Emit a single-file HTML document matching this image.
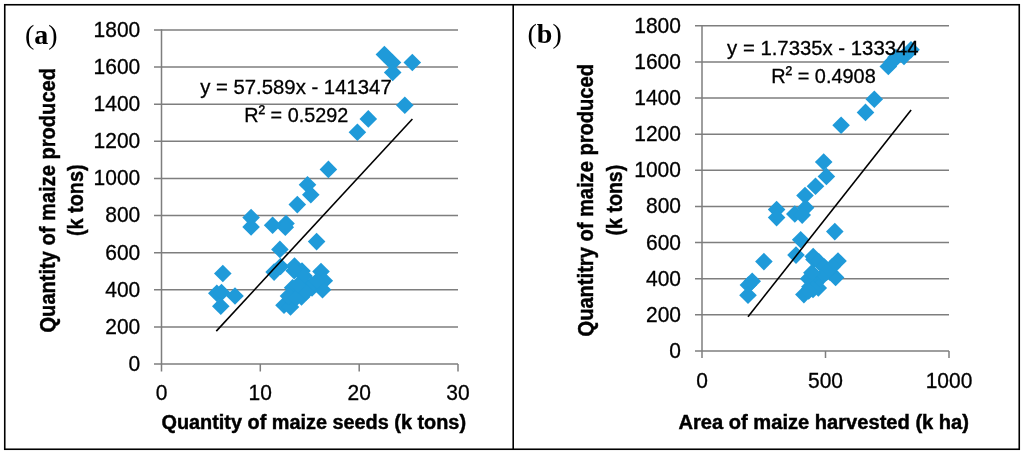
<!DOCTYPE html>
<html><head><meta charset="utf-8"><style>
html,body{margin:0;padding:0;background:#fff;width:1024px;height:455px;overflow:hidden}
svg{display:block;filter:blur(0.3px)}
.g{stroke:#7e7e7e;stroke-width:1.5;fill:none}
.tr{stroke:#000;stroke-width:1.6}
.t{font-family:"Liberation Sans",sans-serif;font-size:20px;fill:#000;stroke:#000;stroke-width:0.3px}
.n{font-family:"Liberation Sans",sans-serif;font-size:22px;fill:#000;stroke:#000;stroke-width:0.3px}
.by{font-family:"Liberation Sans",sans-serif;font-size:22px;font-weight:bold;fill:#000;stroke:#000;stroke-width:0.45px}
.pn{font-weight:normal}
.b{font-family:"Liberation Sans",sans-serif;font-size:20px;font-weight:bold;fill:#000;stroke:#000;stroke-width:0.45px}
.p{font-family:"Liberation Serif",serif;font-size:28px;font-weight:bold;fill:#000}
</style></head><body>
<svg width="1024" height="455" viewBox="0 0 1024 455">
<rect x="0" y="0" width="1024" height="455" fill="#fff"/>
<line x1="154.0" y1="364.00" x2="458.0" y2="364.00" class="g"/>
<line x1="154.0" y1="326.89" x2="458.0" y2="326.89" class="g"/>
<line x1="154.0" y1="289.78" x2="458.0" y2="289.78" class="g"/>
<line x1="154.0" y1="252.67" x2="458.0" y2="252.67" class="g"/>
<line x1="154.0" y1="215.56" x2="458.0" y2="215.56" class="g"/>
<line x1="154.0" y1="178.44" x2="458.0" y2="178.44" class="g"/>
<line x1="154.0" y1="141.33" x2="458.0" y2="141.33" class="g"/>
<line x1="154.0" y1="104.22" x2="458.0" y2="104.22" class="g"/>
<line x1="154.0" y1="67.11" x2="458.0" y2="67.11" class="g"/>
<line x1="154.0" y1="30.00" x2="458.0" y2="30.00" class="g"/>
<line x1="161.5" y1="29.25" x2="161.5" y2="371.5" class="g"/>
<line x1="260.3" y1="364.0" x2="260.3" y2="371.5" class="g"/>
<line x1="359.2" y1="364.0" x2="359.2" y2="371.5" class="g"/>
<line x1="458.0" y1="364.0" x2="458.0" y2="371.5" class="g"/>
<text x="140.3" y="370.90" class="n" text-anchor="end" textLength="11.68" lengthAdjust="spacingAndGlyphs">0</text>
<text x="140.3" y="333.79" class="n" text-anchor="end" textLength="35.04" lengthAdjust="spacingAndGlyphs">200</text>
<text x="140.3" y="296.68" class="n" text-anchor="end" textLength="35.04" lengthAdjust="spacingAndGlyphs">400</text>
<text x="140.3" y="259.57" class="n" text-anchor="end" textLength="35.04" lengthAdjust="spacingAndGlyphs">600</text>
<text x="140.3" y="222.46" class="n" text-anchor="end" textLength="35.04" lengthAdjust="spacingAndGlyphs">800</text>
<text x="140.3" y="185.34" class="n" text-anchor="end" textLength="46.72" lengthAdjust="spacingAndGlyphs">1000</text>
<text x="140.3" y="148.23" class="n" text-anchor="end" textLength="46.72" lengthAdjust="spacingAndGlyphs">1200</text>
<text x="140.3" y="111.12" class="n" text-anchor="end" textLength="46.72" lengthAdjust="spacingAndGlyphs">1400</text>
<text x="140.3" y="74.01" class="n" text-anchor="end" textLength="46.72" lengthAdjust="spacingAndGlyphs">1600</text>
<text x="140.3" y="36.90" class="n" text-anchor="end" textLength="46.72" lengthAdjust="spacingAndGlyphs">1800</text>
<text x="161.5" y="400.4" class="n" text-anchor="middle" textLength="11.68" lengthAdjust="spacingAndGlyphs">0</text>
<text x="260.3" y="400.4" class="n" text-anchor="middle" textLength="23.36" lengthAdjust="spacingAndGlyphs">10</text>
<text x="359.2" y="400.4" class="n" text-anchor="middle" textLength="23.36" lengthAdjust="spacingAndGlyphs">20</text>
<text x="458.0" y="400.4" class="n" text-anchor="middle" textLength="23.36" lengthAdjust="spacingAndGlyphs">30</text>
<line x1="695.0" y1="351.00" x2="949.0" y2="351.00" class="g"/>
<line x1="695.0" y1="314.87" x2="949.0" y2="314.87" class="g"/>
<line x1="695.0" y1="278.73" x2="949.0" y2="278.73" class="g"/>
<line x1="695.0" y1="242.60" x2="949.0" y2="242.60" class="g"/>
<line x1="695.0" y1="206.47" x2="949.0" y2="206.47" class="g"/>
<line x1="695.0" y1="170.33" x2="949.0" y2="170.33" class="g"/>
<line x1="695.0" y1="134.20" x2="949.0" y2="134.20" class="g"/>
<line x1="695.0" y1="98.07" x2="949.0" y2="98.07" class="g"/>
<line x1="695.0" y1="61.93" x2="949.0" y2="61.93" class="g"/>
<line x1="695.0" y1="25.80" x2="949.0" y2="25.80" class="g"/>
<line x1="702.0" y1="25.05" x2="702.0" y2="358.0" class="g"/>
<line x1="825.5" y1="351.0" x2="825.5" y2="358.0" class="g"/>
<line x1="949.0" y1="351.0" x2="949.0" y2="358.0" class="g"/>
<text x="681.0" y="357.90" class="n" text-anchor="end" textLength="11.68" lengthAdjust="spacingAndGlyphs">0</text>
<text x="681.0" y="321.77" class="n" text-anchor="end" textLength="35.04" lengthAdjust="spacingAndGlyphs">200</text>
<text x="681.0" y="285.63" class="n" text-anchor="end" textLength="35.04" lengthAdjust="spacingAndGlyphs">400</text>
<text x="681.0" y="249.50" class="n" text-anchor="end" textLength="35.04" lengthAdjust="spacingAndGlyphs">600</text>
<text x="681.0" y="213.37" class="n" text-anchor="end" textLength="35.04" lengthAdjust="spacingAndGlyphs">800</text>
<text x="681.0" y="177.23" class="n" text-anchor="end" textLength="46.72" lengthAdjust="spacingAndGlyphs">1000</text>
<text x="681.0" y="141.10" class="n" text-anchor="end" textLength="46.72" lengthAdjust="spacingAndGlyphs">1200</text>
<text x="681.0" y="104.97" class="n" text-anchor="end" textLength="46.72" lengthAdjust="spacingAndGlyphs">1400</text>
<text x="681.0" y="68.83" class="n" text-anchor="end" textLength="46.72" lengthAdjust="spacingAndGlyphs">1600</text>
<text x="681.0" y="32.70" class="n" text-anchor="end" textLength="46.72" lengthAdjust="spacingAndGlyphs">1800</text>
<text x="702.0" y="387.5" class="n" text-anchor="middle" textLength="11.68" lengthAdjust="spacingAndGlyphs">0</text>
<text x="825.5" y="387.5" class="n" text-anchor="middle" textLength="35.04" lengthAdjust="spacingAndGlyphs">500</text>
<text x="949.0" y="387.5" class="n" text-anchor="middle" textLength="46.72" lengthAdjust="spacingAndGlyphs">1000</text>
<g fill="#1f9ad9">
<path d="M384.4 45.7L393.2 54.5L384.4 63.3L375.6 54.5Z"/>
<path d="M392.5 53.7L401.3 62.5L392.5 71.3L383.7 62.5Z"/>
<path d="M392.7 63.7L401.5 72.5L392.7 81.3L383.9 72.5Z"/>
<path d="M412.3 53.7L421.1 62.5L412.3 71.3L403.5 62.5Z"/>
<path d="M404.8 96.5L413.6 105.3L404.8 114.1L396.0 105.3Z"/>
<path d="M368.3 110.1L377.1 118.9L368.3 127.7L359.5 118.9Z"/>
<path d="M357.4 123.5L366.2 132.3L357.4 141.1L348.6 132.3Z"/>
<path d="M328.4 160.6L337.2 169.4L328.4 178.2L319.6 169.4Z"/>
<path d="M307.5 176.0L316.3 184.8L307.5 193.6L298.7 184.8Z"/>
<path d="M310.8 185.9L319.6 194.7L310.8 203.5L302.0 194.7Z"/>
<path d="M297.3 195.8L306.1 204.6L297.3 213.4L288.5 204.6Z"/>
<path d="M286.0 214.7L294.8 223.5L286.0 232.3L277.2 223.5Z"/>
<path d="M285.3 218.4L294.1 227.2L285.3 236.0L276.5 227.2Z"/>
<path d="M251.1 208.8L259.9 217.6L251.1 226.4L242.3 217.6Z"/>
<path d="M251.1 218.1L259.9 226.9L251.1 235.7L242.3 226.9Z"/>
<path d="M272.6 216.4L281.4 225.2L272.6 234.0L263.8 225.2Z"/>
<path d="M279.9 240.6L288.7 249.4L279.9 258.2L271.1 249.4Z"/>
<path d="M316.6 232.8L325.4 241.6L316.6 250.4L307.8 241.6Z"/>
<path d="M222.8 264.7L231.6 273.5L222.8 282.3L214.0 273.5Z"/>
<path d="M216.8 284.5L225.6 293.3L216.8 302.1L208.0 293.3Z"/>
<path d="M221.5 283.7L230.3 292.5L221.5 301.3L212.7 292.5Z"/>
<path d="M235.0 287.2L243.8 296.0L235.0 304.8L226.2 296.0Z"/>
<path d="M220.8 297.5L229.6 306.3L220.8 315.1L212.0 306.3Z"/>
<path d="M274.1 263.3L282.9 272.1L274.1 280.9L265.3 272.1Z"/>
<path d="M280.5 257.7L289.3 266.5L280.5 275.3L271.7 266.5Z"/>
<path d="M294.5 257.2L303.3 266.0L294.5 274.8L285.7 266.0Z"/>
<path d="M302.0 262.2L310.8 271.0L302.0 279.8L293.2 271.0Z"/>
<path d="M321.0 262.7L329.8 271.5L321.0 280.3L312.2 271.5Z"/>
<path d="M324.3 271.9L333.1 280.7L324.3 289.5L315.5 280.7Z"/>
<path d="M322.5 281.0L331.3 289.8L322.5 298.6L313.7 289.8Z"/>
<path d="M292.6 278.9L301.4 287.7L292.6 296.5L283.8 287.7Z"/>
<path d="M284.0 296.5L292.8 305.3L284.0 314.1L275.2 305.3Z"/>
<path d="M290.5 298.2L299.3 307.0L290.5 315.8L281.7 307.0Z"/>
<path d="M288.5 287.2L297.3 296.0L288.5 304.8L279.7 296.0Z"/>
<path d="M301.5 288.2L310.3 297.0L301.5 305.8L292.7 297.0Z"/>
<path d="M303.0 274.2L311.8 283.0L303.0 291.8L294.2 283.0Z"/>
<path d="M294.2 262.0L303.0 270.8L294.2 279.6L285.4 270.8Z"/>
<path d="M312.0 279.2L320.8 288.0L312.0 296.8L303.2 288.0Z"/>
<path d="M305.0 281.2L313.8 290.0L305.0 298.8L296.2 290.0Z"/>
<path d="M296.0 289.2L304.8 298.0L296.0 306.8L287.2 298.0Z"/>
<path d="M312.0 276.2L320.8 285.0L312.0 293.8L303.2 285.0Z"/>
<path d="M304.0 267.2L312.8 276.0L304.0 284.8L295.2 276.0Z"/>
<path d="M317.0 272.2L325.8 281.0L317.0 289.8L308.2 281.0Z"/>
<path d="M306.0 283.2L314.8 292.0L306.0 300.8L297.2 292.0Z"/>
<path d="M298.0 276.2L306.8 285.0L298.0 293.8L289.2 285.0Z"/>
<path d="M888.3 57.7L897.1 66.5L888.3 75.3L879.5 66.5Z"/>
<path d="M892.0 53.2L900.8 62.0L892.0 70.8L883.2 62.0Z"/>
<path d="M896.0 48.5L904.8 57.3L896.0 66.1L887.2 57.3Z"/>
<path d="M904.0 47.6L912.8 56.4L904.0 65.2L895.2 56.4Z"/>
<path d="M911.0 41.0L919.8 49.8L911.0 58.6L902.2 49.8Z"/>
<path d="M874.3 90.4L883.1 99.2L874.3 108.0L865.5 99.2Z"/>
<path d="M865.5 103.6L874.3 112.4L865.5 121.2L856.7 112.4Z"/>
<path d="M841.1 116.5L849.9 125.3L841.1 134.1L832.3 125.3Z"/>
<path d="M823.7 153.2L832.5 162.0L823.7 170.8L814.9 162.0Z"/>
<path d="M826.4 167.7L835.2 176.5L826.4 185.3L817.6 176.5Z"/>
<path d="M815.5 177.5L824.3 186.3L815.5 195.1L806.7 186.3Z"/>
<path d="M805.0 186.7L813.8 195.5L805.0 204.3L796.2 195.5Z"/>
<path d="M805.6 199.0L814.4 207.8L805.6 216.6L796.8 207.8Z"/>
<path d="M794.8 205.2L803.6 214.0L794.8 222.8L786.0 214.0Z"/>
<path d="M802.2 206.3L811.0 215.1L802.2 223.9L793.4 215.1Z"/>
<path d="M776.6 200.8L785.4 209.6L776.6 218.4L767.8 209.6Z"/>
<path d="M776.6 208.8L785.4 217.6L776.6 226.4L767.8 217.6Z"/>
<path d="M800.7 230.9L809.5 239.7L800.7 248.5L791.9 239.7Z"/>
<path d="M796.0 246.3L804.8 255.1L796.0 263.9L787.2 255.1Z"/>
<path d="M834.8 222.8L843.6 231.6L834.8 240.4L826.0 231.6Z"/>
<path d="M763.9 252.8L772.7 261.6L763.9 270.4L755.1 261.6Z"/>
<path d="M752.2 272.4L761.0 281.2L752.2 290.0L743.4 281.2Z"/>
<path d="M748.4 276.2L757.2 285.0L748.4 293.8L739.6 285.0Z"/>
<path d="M748.0 286.4L756.8 295.2L748.0 304.0L739.2 295.2Z"/>
<path d="M813.2 247.8L822.0 256.6L813.2 265.4L804.4 256.6Z"/>
<path d="M814.0 250.7L822.8 259.5L814.0 268.3L805.2 259.5Z"/>
<path d="M818.8 253.0L827.6 261.8L818.8 270.6L810.0 261.8Z"/>
<path d="M824.4 258.2L833.2 267.0L824.4 275.8L815.6 267.0Z"/>
<path d="M830.0 263.5L838.8 272.3L830.0 281.1L821.2 272.3Z"/>
<path d="M835.6 268.7L844.4 277.5L835.6 286.3L826.8 277.5Z"/>
<path d="M838.0 252.2L846.8 261.0L838.0 269.8L829.2 261.0Z"/>
<path d="M832.3 257.8L841.1 266.6L832.3 275.4L823.5 266.6Z"/>
<path d="M826.6 263.4L835.4 272.2L826.6 281.0L817.8 272.2Z"/>
<path d="M820.9 269.0L829.7 277.8L820.9 286.6L812.1 277.8Z"/>
<path d="M815.2 274.6L824.0 283.4L815.2 292.2L806.4 283.4Z"/>
<path d="M809.6 280.2L818.4 289.0L809.6 297.8L800.8 289.0Z"/>
<path d="M803.9 285.8L812.7 294.6L803.9 303.4L795.1 294.6Z"/>
<path d="M808.6 269.9L817.4 278.7L808.6 287.5L799.8 278.7Z"/>
<path d="M811.9 264.0L820.7 272.8L811.9 281.6L803.1 272.8Z"/>
<path d="M818.3 279.2L827.1 288.0L818.3 296.8L809.5 288.0Z"/>
<path d="M809.9 277.9L818.7 286.7L809.9 295.5L801.1 286.7Z"/>
<path d="M813.0 280.7L821.8 289.5L813.0 298.3L804.2 289.5Z"/>
<path d="M808.7 282.2L817.5 291.0L808.7 299.8L799.9 291.0Z"/>
</g>
<line x1="216.3" y1="331.1" x2="412.4" y2="119" class="tr"/>
<line x1="748" y1="316.8" x2="911.1" y2="110.1" class="tr"/>
<text x="200.2" y="94.4" class="t" textLength="191.5" lengthAdjust="spacingAndGlyphs">y = 57.589x - 141347</text>
<text x="244.2" y="121.8" class="t" textLength="104" lengthAdjust="spacingAndGlyphs">R<tspan dy="-2">²</tspan><tspan dy="2"> = 0.5292</tspan></text>
<text x="727.1" y="55.4" class="t" textLength="191.5" lengthAdjust="spacingAndGlyphs">y = 1.7335x - 133344</text>
<text x="771.2" y="82.7" class="t" textLength="104.5" lengthAdjust="spacingAndGlyphs">R<tspan dy="-2">²</tspan><tspan dy="2"> = 0.4908</tspan></text>
<text x="161.5" y="429" class="b" textLength="304.5" lengthAdjust="spacingAndGlyphs">Quantity of maize seeds (k tons)</text>
<text x="678.5" y="429" class="b" textLength="290.5" lengthAdjust="spacingAndGlyphs">Area of maize harvested (k ha)</text>
<text transform="translate(55,332.5) rotate(-90)" class="by" textLength="264.5" lengthAdjust="spacingAndGlyphs">Quantity of maize produced</text>
<text transform="translate(83.3,236) rotate(-90)" class="by" textLength="71.5" lengthAdjust="spacingAndGlyphs">(k tons)</text>
<text transform="translate(593,336.5) rotate(-90)" class="by" textLength="272.5" lengthAdjust="spacingAndGlyphs">Quantitry of maize produced</text>
<text transform="translate(621.7,235.5) rotate(-90)" class="by" textLength="70.8" lengthAdjust="spacingAndGlyphs">(k tons)</text>
<text x="25" y="44" class="p"><tspan class="pn">(</tspan>a<tspan class="pn">)</tspan></text>
<text x="527.5" y="43" class="p"><tspan class="pn">(</tspan>b<tspan class="pn">)</tspan></text>
<rect x="4.75" y="4.75" width="1014.5" height="444.5" fill="none" stroke="#000" stroke-width="1.6"/>
<line x1="513.2" y1="4" x2="513.2" y2="450" stroke="#000" stroke-width="1.6"/>
</svg>
</body></html>
